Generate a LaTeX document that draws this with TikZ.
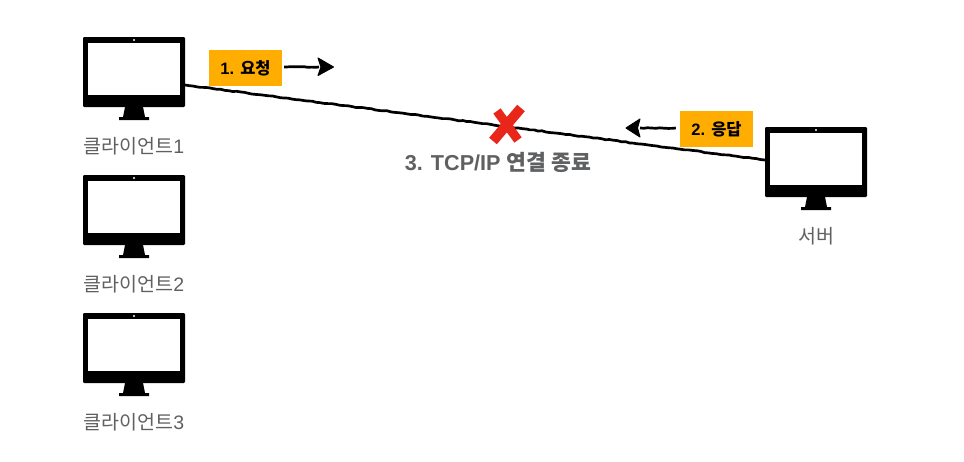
\documentclass[tikz,border=0pt]{standalone}
\usepackage{fontspec}
\setmainfont{Liberation Sans}
\newfontfamily\kr{Noto Sans CJK KR}
\usetikzlibrary{decorations.pathmorphing,calc}
\definecolor{gold}{HTML}{FFAD00}
\definecolor{crossred}{HTML}{E8261A}
\definecolor{labelgray}{HTML}{5F6062}
\tikzset{
  x=1pt,y=-1pt,
  monitorbody/.style={fill=black,rounded corners=1.2pt,minimum width=102pt,minimum height=70pt,inner sep=0pt,outer sep=0pt},
  caption/.style={text=labelgray,font=\fontsize{19.5}{22}\selectfont,inner sep=0pt},
  tagbox/.style={fill=gold,minimum width=73pt,minimum height=36pt,inner sep=0pt,text=black,font=\bfseries\fontsize{16.5}{19}\selectfont},
  rough/.style={decorate,decoration={random steps,segment length=4pt,amplitude=0.45pt}},
  wire/.style={draw=black,line width=2.7pt,rough},
  hand/.style={draw=black,line width=2.7pt,rough},
  handtip/.style={fill=black,draw=black,line width=1pt,line join=round},
  crossstroke/.style={draw=crossred,line cap=butt},
  pics/monitor/.style={code={
    \fill[white] (-46,-29) rectangle (46,23);
    \fill[white] (0,-32) circle (1.1);
    \fill[black] (-9,35) -- (9,35) -- (11,45) -- (15,45) -- (15,48) -- (-15,48) -- (-15,45) -- (-11,45) -- cycle;
  }},
}
\begin{document}
\begin{tikzpicture}
\useasboundingbox (0,0) rectangle (964,461);
\fill[white] (0,0) rectangle (964,461);

% monitors
\node[monitorbody] (m1) at (134,72) {};
\pic at (134,72) {monitor};
\node[monitorbody] (m2) at (134,210) {};
\pic at (134,210) {monitor};
\node[monitorbody] (m3) at (134,348) {};
\pic at (134,348) {monitor};
\node[monitorbody] (srv) at (816,162) {};
\pic at (816,162) {monitor};

% captions
\node[caption] (c1) at (134,146) {{\kr 클라이언트}1};
\node[caption] (c2) at (134,284) {{\kr 클라이언트}2};
\node[caption] (c3) at (134,422) {{\kr 클라이언트}3};
\node[caption] (c4) at (816,236) {\kr 서버};

% connection
\coordinate (la) at ($(m1.east)+(0,13)$);
\coordinate (lb) at ($(srv.west)+(0,-2)$);
\draw[wire] (la) -- (lb);

% tags
\node[tagbox] (t1) at (245.5,68) {1. {\kr\bfseries 요청}};
\node[tagbox] (t2) at (716.5,129) {2. {\kr\bfseries 응답}};

% arrows
\coordinate (a1s) at ($(t1.east)+(2,-1)$);
\coordinate (a1e) at (319,67);
\draw[hand] (a1s) -- (a1e);
\filldraw[handtip] (318,58) -- (333.5,67) -- (318,75.5) -- (321,67) -- cycle;
\coordinate (a2s) at ($(t2.west)+(-4,-1)$);
\coordinate (a2e) at (640,128);
\draw[hand] (a2s) -- (a2e);
\filldraw[handtip] (640,119) -- (626,128) -- (640,137) -- (637.5,128) -- cycle;

% cross
\coordinate (x1) at (521,108);
\coordinate (x2) at (493,141);
\coordinate (x3) at (497,111);
\coordinate (x4) at (518,140);
\draw[crossstroke,line width=9pt] (x3) -- (x4);
\draw[crossstroke,line width=10pt] (x1) -- (x2);

\node[text=labelgray,inner sep=0pt,font=\bfseries\fontsize{21.6}{24}\selectfont] (t3) at (498,162) {3. TCP/IP {\kr\bfseries 연결 종료}};
\end{tikzpicture}
\end{document}
